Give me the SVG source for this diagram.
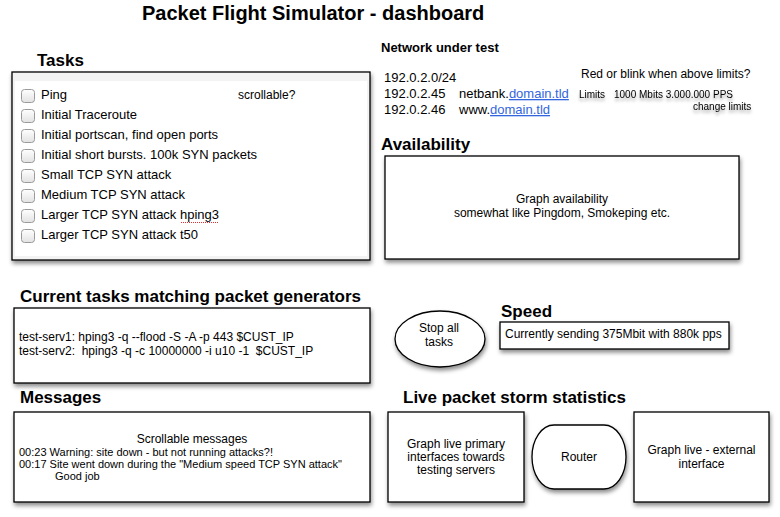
<svg xmlns="http://www.w3.org/2000/svg" width="780" height="517" viewBox="0 0 780 517">
<defs>
<filter id="sh" x="-10%" y="-10%" width="125%" height="140%">
<feDropShadow dx="1" dy="3" stdDeviation="2" flood-color="#000" flood-opacity="0.45"/>
</filter>
<filter id="tsh" x="-10%" y="-50%" width="120%" height="250%">
<feDropShadow dx="0" dy="3" stdDeviation="1.5" flood-color="#000" flood-opacity="0.35"/>
</filter>
<linearGradient id="cbg" x1="0" y1="0" x2="0" y2="1">
<stop offset="0" stop-color="#ffffff"/>
<stop offset="1" stop-color="#e2e2e2"/>
</linearGradient>
<style>
text{font-family:"Liberation Sans",Arial,sans-serif;fill:#000}
.h{font-size:17px;font-weight:bold}
.t13{font-size:13px}
.t12{font-size:12px}
.t11{font-size:11px}
.t10{font-size:10px}
.box{fill:#fff;stroke:#000;stroke-width:1.3}
.cb{fill:url(#cbg);stroke:#9a9a9a;stroke-width:1}
.c{text-anchor:middle}
.lnk{fill:#3366dd;text-decoration:underline}
</style>
</defs>
<rect width="780" height="517" fill="#fff"/>

<text x="142" y="20" style="font-size:20px;font-weight:bold">Packet Flight Simulator - dashboard</text>

<g id="tasks">
<text class="h" x="37" y="66">Tasks</text>
<rect class="box" x="12" y="72" width="358" height="188" filter="url(#sh)" style="fill:#f3f3f3"/>
<rect x="15" y="81" width="352" height="175" fill="#fff"/>
<text class="t12" x="238" y="99">scrollable?</text>
<rect class="cb" x="21.5" y="89.5" width="13" height="13" rx="3"/>
<text class="t13" x="41" y="99">Ping</text>
<rect class="cb" x="21.5" y="109.5" width="13" height="13" rx="3"/>
<text class="t13" x="41" y="119">Initial Traceroute</text>
<rect class="cb" x="21.5" y="129.5" width="13" height="13" rx="3"/>
<text class="t13" x="41" y="139">Initial portscan, find open ports</text>
<rect class="cb" x="21.5" y="149.5" width="13" height="13" rx="3"/>
<text class="t13" x="41" y="159">Initial short bursts. 100k SYN packets</text>
<rect class="cb" x="21.5" y="169.5" width="13" height="13" rx="3"/>
<text class="t13" x="41" y="179">Small TCP SYN attack</text>
<rect class="cb" x="21.5" y="189.5" width="13" height="13" rx="3"/>
<text class="t13" x="41" y="199">Medium TCP SYN attack</text>
<rect class="cb" x="21.5" y="209.5" width="13" height="13" rx="3"/>
<text class="t13" x="41" y="219">Larger TCP SYN attack hping3</text>
<line x1="181" y1="222.5" x2="219" y2="222.5" stroke="#e03030" stroke-width="1" stroke-dasharray="1,1"/>
<rect class="cb" x="21.5" y="229.5" width="13" height="13" rx="3"/>
<text class="t13" x="41" y="239">Larger TCP SYN attack t50</text>
</g>

<g id="network">
<text x="381" y="52" style="font-size:13px;font-weight:bold">Network under test</text>
<text class="t13" x="384" y="82">192.0.2.0/24</text>
<text class="t13" x="384" y="98">192.0.2.45</text>
<text class="t13" x="459" y="98">netbank.<tspan class="lnk">domain.tld</tspan></text>
<text class="t13" x="384" y="114">192.0.2.46</text>
<text class="t13" x="459" y="114">www.<tspan class="lnk">domain.tld</tspan></text>
<text class="t12" x="581" y="78">Red or blink when above limits?</text>
<text class="t10" x="579" y="98" filter="url(#tsh)">Limits</text>
<text class="t10" x="614" y="98" filter="url(#tsh)">1000 Mbits 3.000.000 PPS</text>
<text class="t10" x="693" y="110" filter="url(#tsh)">change limits</text>
</g>

<g id="availability">
<text class="h" x="381" y="150">Availability</text>
<rect class="box" x="385" y="156" width="354" height="103" filter="url(#sh)"/>
<text class="t12 c" x="562" y="203">Graph availability</text>
<text class="t12 c" x="562" y="217">somewhat like Pingdom, Smokeping etc.</text>
</g>

<g id="current-tasks">
<text class="h" x="20" y="302">Current tasks matching packet generators</text>
<rect class="box" x="14" y="308" width="356" height="75" filter="url(#sh)"/>
<text class="t12" x="19" y="341">test-serv1: hping3 -q --flood -S -A -p 443 $CUST_IP</text>
<text class="t12" x="19" y="355" xml:space="preserve">test-serv2:  hping3 -q -c 10000000 -i u10 -1  $CUST_IP</text>
</g>

<g id="stop">
<ellipse cx="440" cy="339" rx="45" ry="28" fill="#fff" stroke="#000" stroke-width="1.3" filter="url(#sh)"/>
<text class="t12 c" x="439" y="332">Stop all</text>
<text class="t12 c" x="439" y="346">tasks</text>
</g>

<g id="speed">
<text class="h" x="501" y="317">Speed</text>
<rect class="box" x="500" y="322" width="229" height="27" filter="url(#sh)"/>
<text class="t12" x="505" y="338">Currently sending 375Mbit with 880k pps</text>
</g>

<g id="messages">
<text class="h" x="20" y="403">Messages</text>
<rect class="box" x="14" y="412" width="356" height="90" filter="url(#sh)"/>
<text class="t12 c" x="192" y="443">Scrollable messages</text>
<text class="t11" x="19" y="456">00:23 Warning: site down - but not running attacks?!</text>
<text class="t11" x="19" y="468">00:17 Site went down during the "Medium speed TCP SYN attack"</text>
<text class="t11" x="55" y="480">Good job</text>
</g>

<g id="live-stats">
<text class="h" x="403" y="403">Live packet storm statistics</text>
</g>

<g id="graph-primary">
<rect class="box" x="388" y="412" width="136" height="90" filter="url(#sh)"/>
<text class="t12 c" x="456" y="448">Graph live primary</text>
<text class="t12 c" x="456" y="461">interfaces towards</text>
<text class="t12 c" x="456" y="474">testing servers</text>
</g>

<g id="router">
<rect class="box" x="532" y="425" width="94" height="64" rx="22" ry="32" filter="url(#sh)"/>
<text class="t12 c" x="579" y="461">Router</text>
</g>

<g id="graph-external">
<rect class="box" x="634" y="412" width="135" height="90" filter="url(#sh)"/>
<text class="t12 c" x="701.5" y="454">Graph live - external</text>
<text class="t12 c" x="701.5" y="468">interface</text>
</g>

<g id="connectors"></g>
</svg>
